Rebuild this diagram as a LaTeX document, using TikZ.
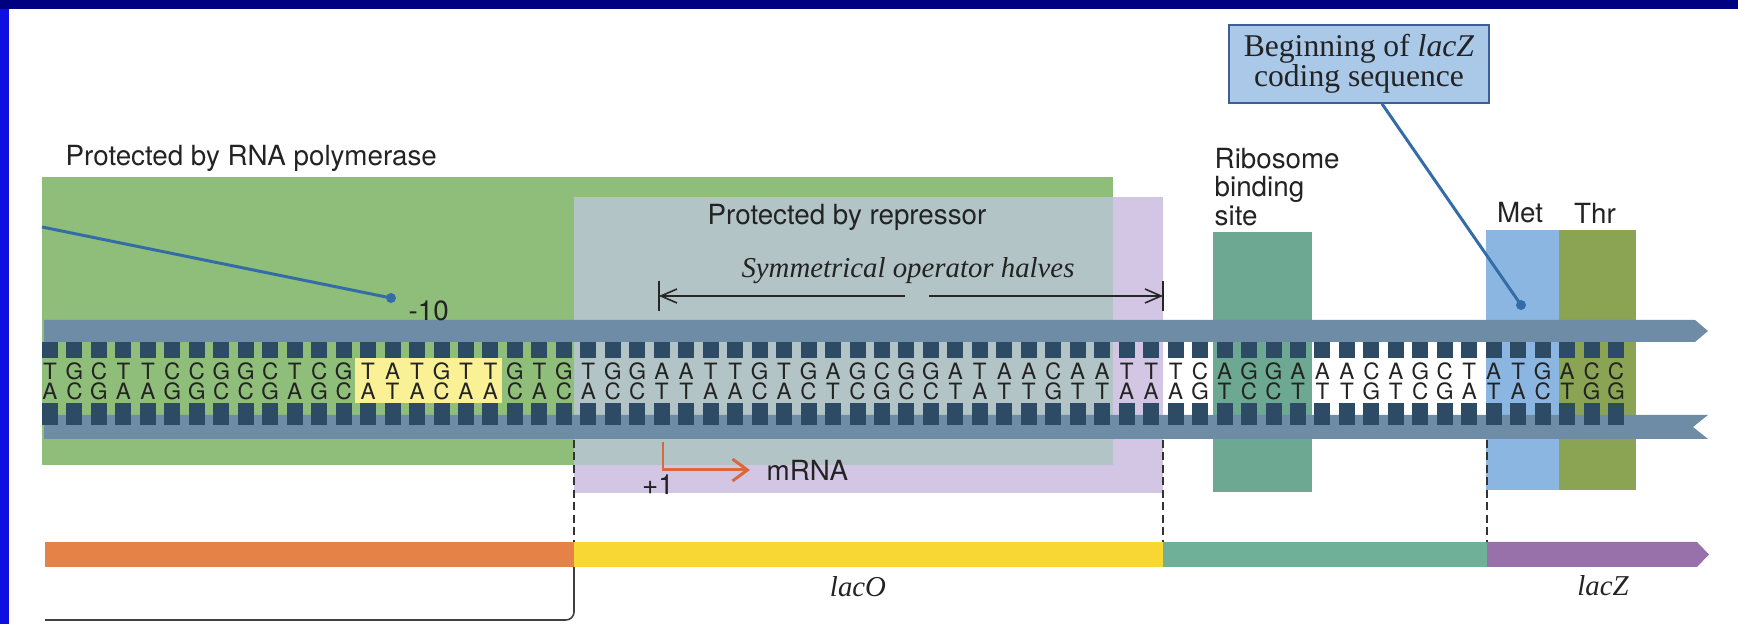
\documentclass[tikz,border=0pt]{standalone}
\usepackage{fontspec}
\setmainfont{TeX Gyre Heros}
\newfontfamily\bookfont{Liberation Serif}
\usetikzlibrary{arrows.meta}
\definecolor{navyframe}{RGB}{0,0,128}
\definecolor{leftblue}{RGB}{15,15,225}
\definecolor{polgreen}{RGB}{142,190,122}
\definecolor{repgrey}{RGB}{178,196,198}
\definecolor{replav}{RGB}{210,198,228}
\definecolor{rbsteal}{RGB}{108,168,146}
\definecolor{metblue}{RGB}{140,182,226}
\definecolor{throlive}{RGB}{138,164,84}
\definecolor{tatabox}{RGB}{250,240,150}
\definecolor{backbone}{RGB}{110,140,165}
\definecolor{rungcol}{RGB}{45,75,100}
\definecolor{barorange}{RGB}{228,130,72}
\definecolor{baryellow}{RGB}{248,214,52}
\definecolor{barteal}{RGB}{110,176,152}
\definecolor{barpurple}{RGB}{152,112,170}
\definecolor{pointerblue}{RGB}{52,108,168}
\definecolor{tssorange}{RGB}{218,104,62}
\definecolor{boxfill}{RGB}{170,200,232}
\definecolor{boxedge}{RGB}{60,96,150}
\definecolor{labeltext}{RGB}{35,35,35}
\definecolor{nuctext}{RGB}{35,35,35}
\tikzset{
  lbl/.style={font=\fontsize{7.9}{8}\selectfont, text=labeltext, inner sep=0pt},
  italabel/.style={font=\bookfont\itshape\fontsize{8.2}{9}\selectfont, text=labeltext, inner sep=0pt},
  nuc/.style={font=\fontsize{6.4}{6.4}\selectfont, text=nuctext, inner sep=0pt},
  pointerline/.style={draw=pointerblue, line width=0.85pt},
  guideline/.style={black!80, line width=0.45pt, dash pattern=on 0.8mm off 0.45mm},
  symline/.style={black!85, line width=0.45pt, -{Straight Barb[length=1.6mm,width=1.4mm]}}
}
\begin{document}
\begin{tikzpicture}[x=0.1mm, y=-0.1mm]
\useasboundingbox (0,0) rectangle (1738,624);
\fill[white] (0,0) rectangle (1738,624);
\fill[leftblue] (0,0) rectangle (9,624);
\fill[navyframe] (0,0) rectangle (1738,9);

\fill[polgreen] (42,177) rectangle (1113,465);
\fill[replav] (574,197) rectangle (1163,493);
\fill[repgrey] (574,197) rectangle (1113,465);
\fill[rbsteal] (1213,232) rectangle (1312,492);
\fill[metblue] (1486,230) rectangle (1559,490);
\fill[throlive] (1559,230) rectangle (1636,490);
\fill[tatabox] (355,358) rectangle (502,403);

\fill[backbone] (44,320) -- (1695,320) -- (1708,331) -- (1695,342) -- (44,342) -- cycle;
\fill[backbone] (44,415) -- (1708,415) -- (1693,427) -- (1708,439) -- (44,439) -- cycle;
\foreach \t/\b [count=\i] in {T/A,G/C,C/G,T/A,T/A,C/G,C/G,G/C,G/C,C/G,T/A,C/G,G/C,T/A,A/T,T/A,G/C,T/A,T/A,G/C,T/A,G/C,T/A,G/C,G/C,A/T,A/T,T/A,T/A,G/C,T/A,G/C,A/T,G/C,C/G,G/C,G/C,A/T,T/A,A/T,A/T,C/G,A/T,A/T,T/A,T/A,T/A,C/G,A/T,G/C,G/C,A/T,A/T,A/T,C/G,A/T,G/C,C/G,T/A,A/T,T/A,G/C,A/T,C/G,C/G} {
  \pgfmathsetmacro\xx{25.53+24.47*\i}
  \fill[rungcol] (\xx-8,342) rectangle (\xx+8,358);
  \fill[rungcol] (\xx-8,403) rectangle (\xx+8,425);
  \node[nuc] (t\i) at (\xx,371) {\t};
  \node[nuc] (b\i) at (\xx,391) {\b};
}

\node[lbl, anchor=west] (pollabel) at (65,158) {Protected by RNA polymerase};
\node[lbl] (replabel) at (847,217) {Protected by repressor};
\node[italabel] (symlabel) at (908,271) {Symmetrical operator halves};
\coordinate (symL) at (659,296);
\coordinate (symR) at (1163,296);
\coordinate (halfL) at (905,296);
\coordinate (halfR) at (929,296);
\draw[symline] (halfL) -- (symL);
\draw[symline] (halfR) -- (symR);
\draw[black!85, line width=0.45pt] (659,281) -- (659,311);
\draw[black!85, line width=0.45pt] (1163,281) -- (1163,311);

\coordinate (tenfrom) at (42,227);
\coordinate (tendot) at (391,298);
\draw[pointerline] (tenfrom) -- (tendot);
\fill[pointerblue] (tendot) circle[radius=0.5mm];
\node[lbl, anchor=west] (minusten) at (408,311) {-10};

\node[lbl, anchor=west, align=left] (rbslabel) at (1214,187) {Ribosome\\binding\\site};
\node[lbl] (metlabel) at (1520,213) {Met};
\node[lbl] (thrlabel) at (1595,213) {Thr};

\node[draw=boxedge, fill=boxfill, line width=0.45pt, minimum width=26mm, minimum height=7.8mm, inner sep=0pt, align=center, text=labeltext, font=\bookfont\fontsize{9}{8.6}\selectfont] (lacZbox) at (1359,64) {Beginning of \textit{lacZ}\\coding sequence};
\coordinate (metdot) at (1521,305);
\draw[pointerline] (lacZbox.-60) -- (metdot);
\fill[pointerblue] (metdot) circle[radius=0.5mm];

\coordinate (tss) at (663,442);
\node[lbl, anchor=west] (mrna) at (766,470) {mRNA};
\draw[tssorange, line width=0.85pt, -{Straight Barb[length=1.5mm,width=2.2mm]}] (tss) |- ([xshift=-1.6mm]mrna.west);
\node[lbl] (plusone) at (658,485) {+1};

\draw[guideline] (574,440) -- (574,542);
\draw[guideline] (1163,440) -- (1163,542);
\draw[guideline] (1487,440) -- (1487,542);

\fill[barorange] (45,542) rectangle (574,567);
\fill[baryellow] (574,542) rectangle (1163,567);
\fill[barteal] (1163,542) rectangle (1487,567);
\fill[barpurple] (1487,542) -- (1697,542) -- (1709,554.5) -- (1697,567) -- (1487,567) -- cycle;
\draw[black!75, line width=0.45pt, rounded corners=0.8mm] (574,567) |- (45,620);

\node[italabel] (lacO) at (858,587) {lacO};
\node[italabel] (lacZ) at (1603,586) {lacZ};
\end{tikzpicture}
\end{document}
